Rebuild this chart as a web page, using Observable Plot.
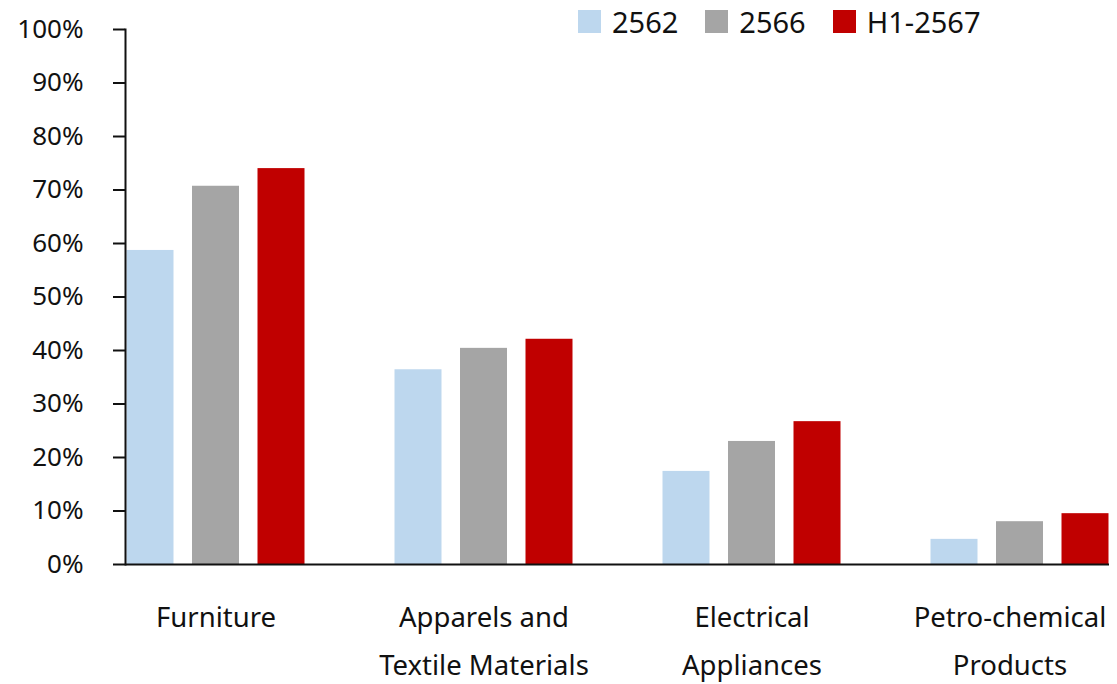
<!DOCTYPE html>
<html>
<head>
<meta charset="utf-8">
<script src="https://cdn.jsdelivr.net/npm/d3@7"></script>
<script src="https://cdn.jsdelivr.net/npm/@observablehq/plot@0.6"></script>
<style>
  html, body { margin: 0; padding: 0; background: #fff; }
  #wrap { position: relative; width: 1117px; height: 684px; font-family: "Noto Sans", sans-serif; }
  #legend { position: absolute; top: 2px; left: 578px; display: flex; align-items: center; font-size: 29px; color: #111; }
  #legend .item { display: flex; align-items: center; margin-right: 27px; }
  #legend .sw { width: 23px; height: 23px; margin-right: 11px; }
</style>
</head>
<body>
<div id="wrap"><div id="legend"></div></div>
<script>
const categories = ["Furniture", "Apparels and Textile Materials", "Electrical Appliances", "Petro-chemical Products"];
const categoryLabels = ["Furniture", "Apparels and\nTextile Materials", "Electrical\nAppliances", "Petro-chemical\nProducts"];
const series = ["2562", "2566", "H1-2567"];
const colors = ["#BDD7EE", "#A5A5A5", "#C00000"];
const values2562 = [0.587, 0.364, 0.174, 0.047];
const values2566 = [0.707, 0.404, 0.230, 0.080];
const valuesH1 = [0.740, 0.421, 0.267, 0.095];
const yTicks = [0, 0.1, 0.2, 0.3, 0.4, 0.5, 0.6, 0.7, 0.8, 0.9, 1.0];

const seriesValues = [values2562, values2566, valuesH1];
const rows = [];
series.forEach((s, i) => categories.forEach((c, j) => rows.push({series: s, category: c, value: seriesValues[i][j]})));

const offsets = [-65.5, 0, 65.5];
const labelOf = new Map(categories.map((c, i) => [c, categoryLabels[i]]));
const xAxisStyle = {tickSize: 0, tickPadding: 28, fontSize: 27.5, label: null, lineHeight: 1.76,
  tickFormat: d => labelOf.get(d), fill: "#111"};

const chart = Plot.plot({
  width: 1117,
  height: 684,
  marginLeft: 125,
  marginRight: 8,
  marginTop: 29,
  marginBottom: 120,
  style: {fontFamily: "Noto Sans, sans-serif", background: "transparent", color: "#111"},
  x: {domain: categories, paddingInner: 0.825, paddingOuter: 0.2435},
  y: {domain: [0, 1]},
  color: {domain: series, range: colors},
  marks: [
    ...series.map((s, i) => Plot.barY(rows.filter(d => d.series === s), {
      x: "category", y: "value", fill: "series", dx: offsets[i]
    })),
    Plot.ruleY([0], {stroke: "#111", strokeWidth: 2}),
    Plot.frame({anchor: "left", stroke: "#111", strokeWidth: 2}),
    Plot.axisY({
      ticks: yTicks, tickFormat: d => Math.round(d * 100) + "%",
      tickSize: 12, tickPadding: 30, fontSize: 26, label: null,
      stroke: "#111", strokeWidth: 2, fill: "#111"
    }),
    Plot.axisX({...xAxisStyle, ticks: categories.slice(0, 3)}),
    Plot.axisX({...xAxisStyle, ticks: categories.slice(3), dx: -10})
  ]
});
document.getElementById("wrap").appendChild(chart);

const legend = document.getElementById("legend");
series.forEach((s, i) => {
  const item = document.createElement("div");
  item.className = "item";
  const sw = document.createElement("div");
  sw.className = "sw";
  sw.style.background = colors[i];
  const t = document.createElement("span");
  t.textContent = s;
  item.appendChild(sw);
  item.appendChild(t);
  legend.appendChild(item);
});
</script>
</body>
</html>
